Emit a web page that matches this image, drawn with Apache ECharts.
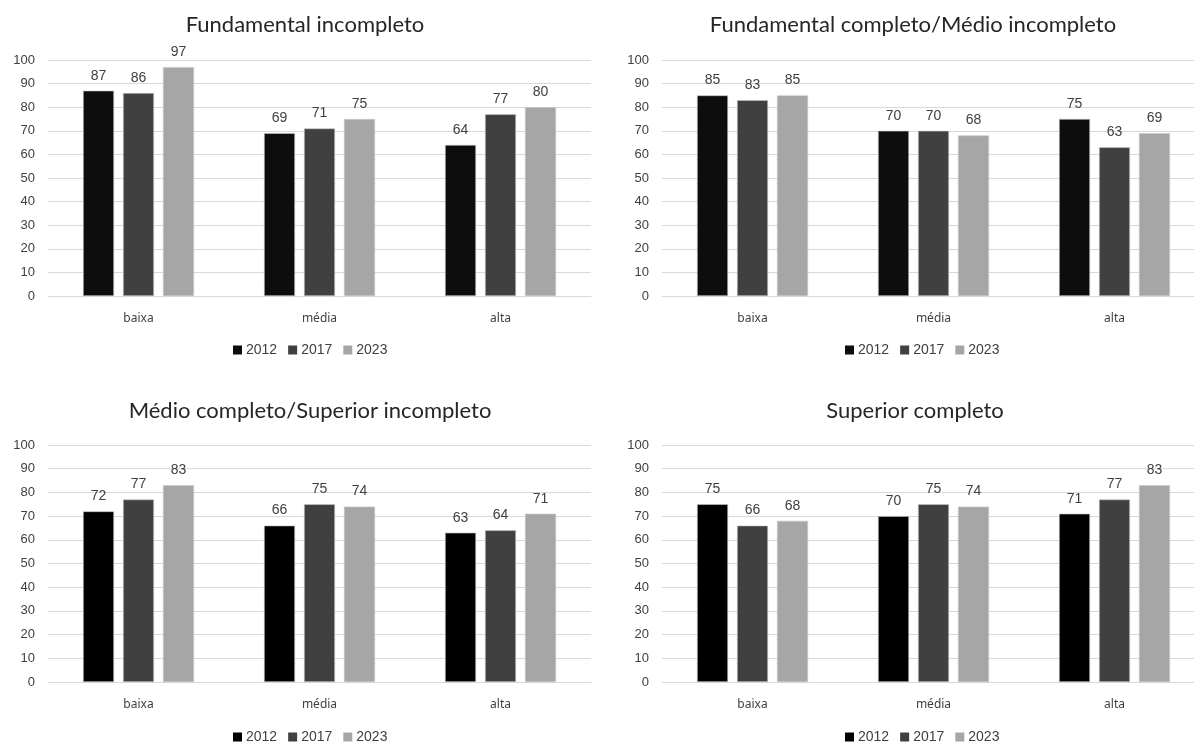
<!DOCTYPE html>
<html>
<head>
<meta charset="utf-8">
<title>Escolaridade por faixa</title>
<script src="https://cdn.jsdelivr.net/npm/echarts@6/dist/echarts.min.js"></script>
<style>
  html, body { margin: 0; padding: 0; background: #ffffff; overflow: hidden; }
  /* the canvas is slightly wider than the window: the right-hand panels run past the edge */
  #chart { width: 1205px; height: 742px; }
</style>
</head>
<body>
<div id="chart"></div>
<script>
// Categories, years and panel titles
const categories = ['baixa', 'média', 'alta'];
const years = ['2012', '2017', '2023'];
const panelTitles = [
  'Fundamental incompleto',
  'Fundamental completo/Médio incompleto',
  'Médio completo/Superior incompleto',
  'Superior completo'
];

// Values per panel, one array per year (baixa, média, alta)
const fundIncompleto2012 = [87, 69, 64];
const fundIncompleto2017 = [86, 71, 77];
const fundIncompleto2023 = [97, 75, 80];

const fundCompleto2012 = [85, 70, 75];
const fundCompleto2017 = [83, 70, 63];
const fundCompleto2023 = [85, 68, 69];

const medioCompleto2012 = [72, 66, 63];
const medioCompleto2017 = [77, 75, 64];
const medioCompleto2023 = [83, 74, 71];

const superiorCompleto2012 = [75, 70, 71];
const superiorCompleto2017 = [66, 75, 77];
const superiorCompleto2023 = [68, 74, 83];

// Y axis tick settings
const yMin = 0;
const yMax = 100;
const yStep = 10;

const panelData = [
  [fundIncompleto2012, fundIncompleto2017, fundIncompleto2023],
  [fundCompleto2012, fundCompleto2017, fundCompleto2023],
  [medioCompleto2012, medioCompleto2017, medioCompleto2023],
  [superiorCompleto2012, superiorCompleto2017, superiorCompleto2023]
];

// Layout of the four panels
const panels = [
  { left: 48,  top: 60,  height: 236, titleX: 305, titleY: 14,  legendX: 233, legendY: 343, first: '#0d0d0d' },
  { left: 662, top: 60,  height: 236, titleX: 913, titleY: 14,  legendX: 845, legendY: 343, first: '#0d0d0d' },
  { left: 48,  top: 445, height: 237, titleX: 310, titleY: 400, legendX: 233, legendY: 730, first: '#000000' },
  { left: 662, top: 445, height: 237, titleX: 915, titleY: 400, legendX: 845, legendY: 730, first: '#000000' }
];
const panelWidth = 543;
const otherColors = ['#404040', '#a6a6a6'];

const option = {
  animation: false,
  backgroundColor: '#ffffff',
  title: [],
  legend: [],
  grid: [],
  xAxis: [],
  yAxis: [],
  series: []
};

panels.forEach((p, i) => {
  option.title.push({
    text: panelTitles[i],
    left: p.titleX,
    top: p.titleY,
    textAlign: 'center',
    padding: 0,
    textStyle: { fontFamily: 'Lato', fontSize: 22, fontWeight: 'normal', color: '#262626' }
  });
  option.grid.push({ left: p.left, top: p.top, width: panelWidth, height: p.height, containLabel: false });
  option.xAxis.push({
    type: 'category',
    gridIndex: i,
    data: categories,
    axisLine: { show: true, lineStyle: { color: '#d9d9d9', width: 1 } },
    axisTick: { show: false },
    axisLabel: { margin: 17, fontFamily: 'Noto Sans', fontSize: 12, color: '#404040' }
  });
  option.yAxis.push({
    type: 'value',
    gridIndex: i,
    min: yMin,
    max: yMax,
    interval: yStep,
    axisLine: { show: false },
    axisTick: { show: false },
    axisLabel: { margin: 13, fontFamily: 'Liberation Sans', fontSize: 13, color: '#404040' },
    splitLine: { lineStyle: { color: '#d9d9d9', width: 1 } }
  });
  const colors = [p.first].concat(otherColors);
  years.forEach((y, k) => {
    option.series.push({
      name: y,
      type: 'bar',
      xAxisIndex: i,
      yAxisIndex: i,
      data: panelData[i][k],
      barWidth: 31,
      barGap: '29%',
      itemStyle: { color: colors[k], borderColor: '#c8c8c8', borderWidth: 0.6 },
      label: {
        show: true,
        position: 'top',
        distance: 8,
        fontFamily: 'Liberation Sans',
        fontSize: 14,
        color: '#404040'
      }
    });
  });
  option.legend.push({
    left: p.legendX,
    top: p.legendY,
    padding: 0,
    itemWidth: 9,
    itemHeight: 9,
    itemGap: 11,
    icon: 'rect',
    selectedMode: false,
    data: years.map((y, k) => ({ name: y, itemStyle: { color: colors[k], borderWidth: 0 } })),
    textStyle: { fontFamily: 'Liberation Sans', fontSize: 14, color: '#404040', padding: [0, 0, 0, -1] }
  });
});

const chart = echarts.init(document.getElementById('chart'), null, { renderer: 'canvas' });
chart.setOption(option);
</script>
</body>
</html>
